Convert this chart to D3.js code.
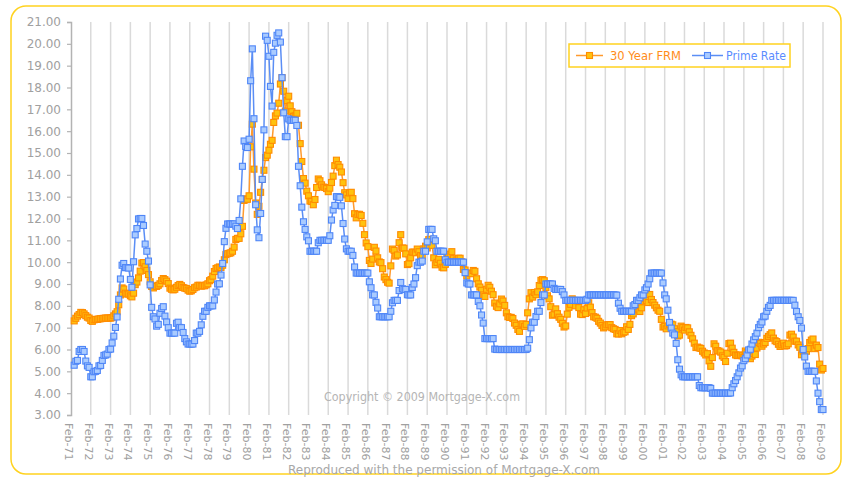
<!DOCTYPE html>
<html><head><meta charset="utf-8">
<script src="https://cdn.jsdelivr.net/npm/d3@7"></script>
<style>body{margin:0;background:#fff}svg{display:block}</style>
</head><body><svg id="c" width="848" height="477"></svg>
<script>
// ---------- data (monthly averages, first value = Apr-1971) ----------
const firstMonth = "1971-04";
const seriesNames = ["30 Year FRM", "Prime Rate"];
const frmValues = [
  /*1971*/ 7.31,7.43,7.53,7.60,7.70,7.69,7.63,7.55,7.48,
  /*1972*/ 7.44,7.33,7.29,7.36,7.38,7.38,7.40,7.41,7.42,7.43,7.44,7.44,
  /*1973*/ 7.44,7.44,7.46,7.54,7.63,7.73,8.05,8.50,8.82,8.77,8.58,8.54,
  /*1974*/ 8.54,8.46,8.41,8.58,8.97,9.09,9.28,9.59,9.96,9.98,9.79,9.62,
  /*1975*/ 9.43,9.10,8.89,8.82,8.91,8.89,8.94,9.01,9.16,9.25,9.20,9.13,
  /*1976*/ 9.02,8.81,8.76,8.73,8.76,8.85,8.93,8.98,8.92,8.84,8.81,8.79,
  /*1977*/ 8.72,8.67,8.69,8.75,8.83,8.86,8.94,8.94,8.90,8.92,8.92,8.96,
  /*1978*/ 9.01,9.15,9.20,9.36,9.57,9.71,9.74,9.78,9.76,9.86,10.11,10.35,
  /*1979*/ 10.39,10.41,10.43,10.50,10.69,11.04,11.09,11.09,11.30,11.64,12.83,12.90,
  /*1980*/ 12.88,13.04,15.28,16.32,14.26,12.71,12.19,12.56,13.20,13.79,14.21,14.79,
  /*1981*/ 14.90,15.13,15.40,15.58,16.40,16.70,16.83,17.28,18.16,18.45,17.83,16.92,
  /*1982*/ 17.40,17.60,17.16,16.89,16.68,16.70,16.82,16.27,15.43,14.61,13.83,13.62,
  /*1983*/ 13.25,13.04,12.80,12.78,12.63,12.87,13.42,13.81,13.73,13.54,13.44,13.42,
  /*1984*/ 13.37,13.23,13.39,13.65,13.94,14.42,14.67,14.47,14.35,14.13,13.64,13.18,
  /*1985*/ 13.08,12.92,13.17,13.20,12.91,12.22,12.03,12.19,12.19,12.14,11.78,11.26,
  /*1986*/ 10.88,10.71,10.08,9.94,10.14,10.68,10.51,10.20,10.01,9.98,9.70,9.32,
  /*1987*/ 9.20,9.08,9.04,9.83,10.60,10.54,10.28,10.33,10.89,11.26,10.65,10.64,
  /*1988*/ 10.38,9.89,9.93,10.20,10.46,10.46,10.43,10.60,10.48,10.30,10.27,10.61,
  /*1989*/ 10.73,10.65,11.03,11.05,10.77,10.20,9.88,9.99,10.13,9.95,9.77,9.74,
  /*1990*/ 9.90,10.20,10.27,10.37,10.48,10.16,10.04,10.10,10.18,10.18,10.01,9.67,
  /*1991*/ 9.64,9.37,9.50,9.49,9.47,9.62,9.58,9.24,9.01,8.86,8.71,8.50,
  /*1992*/ 8.43,8.76,8.94,8.85,8.67,8.51,8.13,7.98,7.92,8.09,8.31,8.22,
  /*1993*/ 8.02,7.68,7.50,7.47,7.47,7.42,7.21,7.11,6.92,6.83,7.16,7.17,
  /*1994*/ 7.06,7.15,7.68,8.32,8.60,8.40,8.61,8.51,8.64,8.93,9.17,9.20,
  /*1995*/ 9.15,8.83,8.46,8.32,7.96,7.57,7.61,7.86,7.64,7.48,7.38,7.20,
  /*1996*/ 7.03,7.08,7.62,7.93,8.07,8.32,8.25,8.00,8.23,7.92,7.62,7.60,
  /*1997*/ 7.82,7.65,7.90,8.14,7.94,7.69,7.50,7.48,7.43,7.29,7.21,7.10,
  /*1998*/ 6.99,7.04,7.13,7.14,7.14,7.00,6.95,6.92,6.72,6.71,6.87,6.72,
  /*1999*/ 6.79,6.81,7.04,6.92,7.15,7.55,7.63,7.94,7.82,7.85,7.74,7.91,
  /*2000*/ 8.21,8.33,8.24,8.15,8.52,8.29,8.15,8.03,7.91,7.80,7.75,7.38,
  /*2001*/ 7.03,7.05,6.95,7.08,7.15,7.16,7.13,6.95,6.82,6.62,6.66,7.07,
  /*2002*/ 7.00,6.89,7.01,6.99,6.81,6.65,6.49,6.29,6.09,6.11,6.07,6.05,
  /*2003*/ 5.92,5.84,5.75,5.81,5.48,5.23,5.63,6.26,6.15,5.95,5.93,5.88,
  /*2004*/ 5.71,5.64,5.45,5.83,6.27,6.29,6.06,5.87,5.75,5.72,5.73,5.75,
  /*2005*/ 5.71,5.63,5.93,5.86,5.72,5.58,5.70,5.82,5.77,6.07,6.33,6.27,
  /*2006*/ 6.15,6.25,6.32,6.51,6.60,6.68,6.76,6.52,6.40,6.36,6.24,6.14,
  /*2007*/ 6.22,6.29,6.16,6.18,6.26,6.66,6.70,6.57,6.38,6.38,6.21,6.10,
  /*2008*/ 5.76,5.92,5.97,5.92,6.04,6.32,6.43,6.48,6.04,6.20,6.09,5.33,
  /*2009*/ 5.06,5.13
];
const primeValues = [
  /*1971*/ 5.28,5.46,5.50,5.91,6.00,6.00,5.91,5.47,5.25,
  /*1972*/ 5.18,4.75,4.75,4.98,5.00,5.04,5.25,5.27,5.50,5.73,5.75,5.79,
  /*1973*/ 6.00,6.02,6.30,6.61,7.01,7.49,8.30,9.23,9.86,9.94,9.75,9.75,
  /*1974*/ 9.73,9.21,8.85,10.02,11.25,11.54,11.98,12.00,12.00,11.68,10.83,10.50,
  /*1975*/ 10.05,8.96,7.93,7.50,7.40,7.07,7.15,7.66,7.88,7.96,7.53,7.26,
  /*1976*/ 7.00,6.75,6.75,6.75,6.75,7.20,7.25,7.01,7.00,6.78,6.50,6.35,
  /*1977*/ 6.25,6.25,6.25,6.25,6.41,6.75,6.75,6.83,7.13,7.52,7.75,7.75,
  /*1978*/ 7.93,8.00,8.00,8.00,8.27,8.63,9.00,9.01,9.41,9.94,10.94,11.55,
  /*1979*/ 11.75,11.75,11.75,11.75,11.75,11.65,11.54,11.91,12.90,14.39,15.55,15.30,
  /*1980*/ 15.25,15.63,18.31,19.77,16.57,12.63,11.48,11.12,12.23,13.79,16.06,20.35,
  /*1981*/ 20.16,19.43,18.05,17.15,19.61,20.03,20.39,20.50,20.08,18.45,16.84,15.75,
  /*1982*/ 15.75,16.56,16.50,16.50,16.50,16.50,16.26,14.39,13.50,12.52,11.85,11.50,
  /*1983*/ 11.16,10.98,10.50,10.50,10.50,10.50,10.50,10.89,11.00,11.00,11.00,11.00,
  /*1984*/ 11.00,11.00,11.21,11.93,12.39,12.60,13.00,13.00,12.97,12.58,11.77,11.06,
  /*1985*/ 10.61,10.50,10.50,10.50,10.31,9.78,9.50,9.50,9.50,9.50,9.50,9.50,
  /*1986*/ 9.50,9.50,9.10,8.83,8.50,8.50,8.16,7.90,7.50,7.50,7.50,7.50,
  /*1987*/ 7.50,7.50,7.50,7.75,8.14,8.25,8.25,8.25,8.70,9.07,8.78,8.75,
  /*1988*/ 8.75,8.51,8.50,8.50,8.84,9.00,9.29,9.84,10.00,10.00,10.05,10.50,
  /*1989*/ 10.50,10.93,11.50,11.50,11.50,11.07,10.98,10.50,10.50,10.50,10.50,10.50,
  /*1990*/ 10.11,10.00,10.00,10.00,10.00,10.00,10.00,10.00,10.00,10.00,10.00,10.00,
  /*1991*/ 9.52,9.05,9.00,9.00,8.50,8.50,8.50,8.50,8.20,8.00,7.58,7.21,
  /*1992*/ 6.50,6.50,6.50,6.50,6.50,6.50,6.02,6.00,6.00,6.00,6.00,6.00,
  /*1993*/ 6.00,6.00,6.00,6.00,6.00,6.00,6.00,6.00,6.00,6.00,6.00,6.00,
  /*1994*/ 6.00,6.00,6.06,6.45,6.99,7.25,7.25,7.51,7.75,7.75,8.15,8.50,
  /*1995*/ 8.50,9.00,9.00,9.00,9.00,9.00,8.80,8.75,8.75,8.75,8.75,8.65,
  /*1996*/ 8.50,8.25,8.25,8.25,8.25,8.25,8.25,8.25,8.25,8.25,8.25,8.25,
  /*1997*/ 8.25,8.25,8.30,8.50,8.50,8.50,8.50,8.50,8.50,8.50,8.50,8.50,
  /*1998*/ 8.50,8.50,8.50,8.50,8.50,8.50,8.50,8.50,8.49,8.12,7.89,7.75,
  /*1999*/ 7.75,7.75,7.75,7.75,7.75,7.75,8.00,8.06,8.25,8.25,8.37,8.50,
  /*2000*/ 8.50,8.73,8.83,9.00,9.24,9.50,9.50,9.50,9.50,9.50,9.50,9.50,
  /*2001*/ 9.05,8.50,8.32,7.80,7.24,6.98,6.75,6.67,6.28,5.53,5.10,4.84,
  /*2002*/ 4.75,4.75,4.75,4.75,4.75,4.75,4.75,4.75,4.75,4.75,4.35,4.25,
  /*2003*/ 4.25,4.25,4.25,4.25,4.25,4.22,4.00,4.00,4.00,4.00,4.00,4.00,
  /*2004*/ 4.00,4.00,4.00,4.00,4.00,4.01,4.25,4.43,4.58,4.75,4.93,5.15,
  /*2005*/ 5.25,5.49,5.58,5.75,5.98,6.01,6.25,6.44,6.59,6.75,7.00,7.15,
  /*2006*/ 7.26,7.50,7.53,7.75,7.93,8.02,8.25,8.25,8.25,8.25,8.25,8.25,
  /*2007*/ 8.25,8.25,8.25,8.25,8.25,8.25,8.25,8.25,8.03,7.74,7.50,7.33,
  /*2008*/ 6.98,6.00,5.66,5.24,5.00,5.00,5.00,5.00,5.00,4.56,4.00,3.61,
  /*2009*/ 3.25,3.25
];
const yTickValues = [3,4,5,6,7,8,9,10,11,12,13,14,15,16,17,18,19,20,21];
const xTickLabels = ["Feb-71","Feb-72","Feb-73","Feb-74","Feb-75","Feb-76","Feb-77","Feb-78","Feb-79","Feb-80",
  "Feb-81","Feb-82","Feb-83","Feb-84","Feb-85","Feb-86","Feb-87","Feb-88","Feb-89","Feb-90",
  "Feb-91","Feb-92","Feb-93","Feb-94","Feb-95","Feb-96","Feb-97","Feb-98","Feb-99","Feb-00",
  "Feb-01","Feb-02","Feb-03","Feb-04","Feb-05","Feb-06","Feb-07","Feb-08","Feb-09"];
const copyrightText = "Copyright \u00A9 2009 Mortgage-X.com";
const footerText = "Reproduced with the permission of Mortgage-X.com";

// ---------- drawing ----------
const svg = d3.select("#c");
const parseLbl = d3.timeParse("%b-%y");
const start = d3.timeParse("%Y-%m")(firstMonth);
const xTicks = xTickLabels.map(parseLbl);
const x = d3.scaleTime().domain([xTicks[0], xTicks[xTicks.length-1]]).range([71, 823]);
const y = d3.scaleLinear().domain([3, 21]).range([415, 22]);
const font = "'DejaVu Sans', Verdana, sans-serif";

// outer rounded frame
svg.append("rect").attr("x",11).attr("y",6).attr("width",830).attr("height",468)
  .attr("rx",15).attr("fill","#fff").attr("stroke","#FFD21F").attr("stroke-width",1.5);

// vertical gridlines
svg.append("g").selectAll("line").data(xTicks.slice(1)).join("line")
  .attr("x1",d=>x(d)).attr("x2",d=>x(d)).attr("y1",y(21)).attr("y2",y(3))
  .attr("stroke","#dadada").attr("stroke-width",1.5);

// y axis
const yAxis = svg.append("g").attr("transform","translate(71,0)")
  .call(d3.axisLeft(y).tickValues(yTickValues).tickFormat(d3.format(".2f")).tickSize(4).tickPadding(6));
yAxis.select(".domain").attr("stroke","#b3b3b3").attr("stroke-width",1.5);
yAxis.selectAll(".tick line").attr("stroke","#b3b3b3").attr("stroke-width",1.2);
yAxis.selectAll("text").attr("fill","#a0a0a0").style("font-family",font).style("font-size","12px");

// x labels
const xAxis = svg.append("g").attr("transform","translate(0,415)")
  .call(d3.axisBottom(x).tickValues(xTicks).tickFormat(d3.timeFormat("%b-%y")).tickSize(0));
xAxis.select(".domain").remove();
xAxis.selectAll("text")
  .attr("fill","#a0a0a0").style("font-family",font).style("font-size","11px")
  .attr("text-anchor","start").attr("dy",null).attr("y",0)
  .attr("dominant-baseline","central")
  .attr("transform","translate(-3,8) rotate(90)");

// copyright watermark
svg.append("text").attr("x",422).attr("y",401).attr("text-anchor","middle")
  .attr("fill","#b5b5b5").style("font-family",font).style("font-size","12px")
  .attr("textLength",196).attr("lengthAdjust","spacingAndGlyphs").text(copyrightText);

// series
const series = [
  {name: seriesNames[0], values: frmValues, line:"#FF9A2E", stroke:"#FF8C00", fill:"#FFC20E", text:"#FF8C1A"},
  {name: seriesNames[1], values: primeValues, line:"#5B8EF5", stroke:"#4F86F7", fill:"#A9CBFF", text:"#5A8CFF"}
];
const line = d3.line().x(d=>x(d.date)).y(d=>y(d.v));
series.forEach(s => {
  const pts = s.values.map((v,i)=>({date: d3.timeMonth.offset(start, i), v}));
  const g = svg.append("g");
  g.append("path").datum(pts).attr("d",line).attr("fill","none")
    .attr("stroke",s.line).attr("stroke-width",1.5);
  g.selectAll("rect").data(pts).join("rect")
    .attr("x",d=>x(d.date)-3).attr("y",d=>y(d.v)-3).attr("width",6).attr("height",6)
    .attr("fill",s.fill).attr("stroke",s.stroke).attr("stroke-width",1.1);
});

// legend
const lg = svg.append("g");
lg.append("rect").attr("x",569).attr("y",44).attr("width",221).attr("height",23)
  .attr("fill","#fff").attr("stroke","#FFD21F").attr("stroke-width",1.5);
const legendItems = [
  {s: series[0], x0: 576, x1: 603, tx: 610, tw: 71},
  {s: series[1], x0: 692, x1: 723, tx: 726, tw: 60}
];
legendItems.forEach(it => {
  lg.append("line").attr("x1",it.x0).attr("x2",it.x1).attr("y1",55.5).attr("y2",55.5)
    .attr("stroke",it.s.line).attr("stroke-width",1.5);
  const mx = (it.x0+it.x1)/2;
  lg.append("rect").attr("x",mx-3).attr("y",52.5).attr("width",6).attr("height",6)
    .attr("fill",it.s.fill).attr("stroke",it.s.stroke).attr("stroke-width",1.1);
  lg.append("text").attr("x",it.tx).attr("y",56).attr("dominant-baseline","central")
    .attr("fill",it.s.text).style("font-family",font).style("font-size","12px")
    .attr("textLength",it.tw).attr("lengthAdjust","spacingAndGlyphs").text(it.s.name);
});

// footer
svg.append("text").attr("x",444).attr("y",474).attr("text-anchor","middle")
  .attr("fill","#a8a8a8").style("font-family",font).style("font-size","13px")
  .attr("textLength",312).attr("lengthAdjust","spacingAndGlyphs").text(footerText);
</script></body></html>
